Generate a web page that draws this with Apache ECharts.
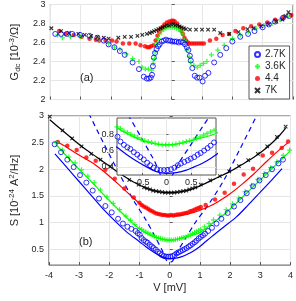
<!DOCTYPE html>
<html><head><meta charset="utf-8">
<script src="https://cdn.jsdelivr.net/npm/echarts@6/dist/echarts.min.js"></script>
<style>html,body{margin:0;padding:0;background:#fff}#c{width:296px;height:301px}</style>
</head><body><div id="c"></div>
<script>
// ---------- Top panel (a): Gdc vs V ----------
const topNames = ['2.7K', '3.6K', '4.4', '7K'];
const gV27 = [-3.84,-3.65,-3.46,-3.28,-3.02,-2.71,-2.45,-2.24,-2.08,-1.89,-1.71,-1.55,-1.29,-1.08,-0.92,-0.82,-0.75,-0.69,-0.65,-0.62,-0.59,-0.55,-0.50,-0.45,-0.40,-0.33,-0.26,-0.19,-0.12,-0.05,0.02,0.09,0.16,0.23,0.30,0.37,0.44,0.50,0.55,0.60,0.63,0.68,0.76,0.84,0.92,1.02,1.10,1.21,1.40,1.60,1.80,2.00,2.26,2.52,2.73,3.00,3.20,3.41,3.67,3.88];
const gG27 = [2.69,2.69,2.69,2.69,2.68,2.67,2.65,2.62,2.58,2.55,2.51,2.47,2.39,2.32,2.24,2.22,2.22,2.23,2.26,2.35,2.44,2.49,2.53,2.56,2.58,2.61,2.62,2.63,2.62,2.62,2.61,2.61,2.61,2.60,2.61,2.60,2.58,2.55,2.52,2.46,2.41,2.33,2.25,2.23,2.23,2.19,2.25,2.28,2.39,2.47,2.54,2.61,2.66,2.69,2.72,2.76,2.79,2.82,2.86,2.88];
const gV36 = [-3.76,-3.60,-3.34,-3.02,-2.66,-2.39,-2.08,-1.89,-1.71,-1.50,-1.29,-1.08,-0.98,-0.87,-0.77,-0.66,-0.61,-0.57,-0.55,-0.50,-0.45,-0.40,-0.33,-0.26,-0.19,-0.12,-0.05,0.02,0.09,0.16,0.23,0.30,0.37,0.42,0.50,0.58,0.63,0.73,0.84,0.94,1.05,1.16,1.31,1.52,1.73,2.00,2.26,2.52,2.78,3.04,3.31,3.57,3.83];
const gG36 = [2.68,2.65,2.66,2.66,2.65,2.63,2.59,2.55,2.53,2.48,2.43,2.40,2.34,2.32,2.32,2.31,2.38,2.43,2.50,2.58,2.64,2.69,2.72,2.74,2.75,2.76,2.76,2.76,2.76,2.75,2.74,2.72,2.69,2.62,2.52,2.45,2.39,2.36,2.34,2.36,2.38,2.40,2.47,2.52,2.57,2.64,2.68,2.71,2.75,2.78,2.80,2.84,2.87];
const gV44 = [-3.71,-3.50,-3.23,-2.97,-2.71,-2.50,-2.39,-2.18,-1.97,-1.82,-1.61,-1.40,-1.19,-1.03,-0.88,-0.80,-0.74,-0.68,-0.60,-0.53,-0.47,-0.42,-0.36,-0.31,-0.24,-0.16,-0.08,0.00,0.05,0.10,0.18,0.26,0.32,0.37,0.42,0.47,0.53,0.58,0.66,0.74,0.82,0.90,0.98,1.06,1.26,1.47,1.68,1.89,2.10,2.36,2.62,2.89,3.15,3.41,3.68,3.94];
const gG44 = [2.72,2.69,2.68,2.66,2.64,2.63,2.62,2.62,2.62,2.61,2.59,2.59,2.59,2.57,2.56,2.55,2.55,2.56,2.57,2.62,2.67,2.71,2.74,2.76,2.79,2.81,2.82,2.83,2.83,2.82,2.80,2.76,2.72,2.69,2.65,2.62,2.60,2.59,2.59,2.59,2.59,2.59,2.59,2.59,2.62,2.64,2.68,2.69,2.72,2.75,2.77,2.79,2.81,2.84,2.86,2.89];
const gV7 = [-3.97,-3.65,-3.39,-3.08,-2.87,-2.66,-2.45,-2.24,-2.08,-1.76,-1.55,-1.34,-1.13,-0.97,-0.82,-0.72,-0.65,-0.58,-0.51,-0.44,-0.37,-0.30,-0.23,-0.16,-0.09,-0.02,0.05,0.12,0.19,0.26,0.33,0.40,0.47,0.60,0.80,1.00,1.20,1.40,1.60,1.90,2.20,2.50,2.70,2.95,3.20,3.45,3.65,3.75,3.85];
const gG7 = [2.75,2.72,2.70,2.69,2.68,2.67,2.66,2.65,2.64,2.65,2.66,2.66,2.67,2.68,2.69,2.70,2.71,2.72,2.73,2.74,2.75,2.76,2.77,2.78,2.78,2.79,2.79,2.78,2.78,2.77,2.76,2.75,2.74,2.735,2.735,2.735,2.735,2.735,2.70,2.69,2.71,2.74,2.75,2.77,2.79,2.82,2.84,2.88,2.92];

// ---------- Bottom panel (b): S vs V ----------
const sV27 = [-3.81,-3.60,-3.39,-3.18,-2.97,-2.76,-2.55,-2.34,-2.13,-1.92,-1.71,-1.55,-1.40,-1.27,-1.13,-1.06,-0.99,-0.93,-0.86,-0.79,-0.73,-0.66,-0.59,-0.53,-0.46,-0.39,-0.33,-0.26,-0.19,-0.12,-0.05,0.02,0.09,0.16,0.23,0.29,0.36,0.43,0.49,0.56,0.63,0.69,0.76,0.83,0.89,0.96,1.03,1.10,1.17,1.27,1.40,1.55,1.71,1.92,2.13,2.34,2.55,2.76,2.97,3.18,3.39,3.60,3.75];
const sS27 = [2.47,2.32,2.18,2.04,1.89,1.75,1.60,1.45,1.31,1.19,1.07,0.98,0.92,0.88,0.84,0.80,0.77,0.71,0.67,0.64,0.62,0.58,0.55,0.52,0.49,0.45,0.42,0.39,0.37,0.36,0.36,0.36,0.37,0.39,0.42,0.44,0.46,0.48,0.50,0.52,0.55,0.57,0.60,0.63,0.66,0.70,0.73,0.76,0.79,0.84,0.90,0.98,1.07,1.18,1.30,1.42,1.55,1.68,1.79,1.89,2.00,2.11,2.18];
const fV27 = [-3.80,-3.40,-3.00,-2.60,-2.20,-1.80,-1.40,-1.00,-0.80,-0.60,-0.40,-0.20,0,0.20,0.40,0.60,0.80,1.00,1.40,1.80,2.20,2.60,3.00,3.40,3.72];
const fS27 = [2.29,2.03,1.77,1.51,1.25,1.02,0.81,0.64,0.55,0.47,0.40,0.34,0.32,0.33,0.36,0.41,0.47,0.55,0.74,0.92,1.10,1.33,1.57,1.81,2.01];
const sV36 = [-3.76,-3.55,-3.34,-3.13,-2.92,-2.71,-2.50,-2.29,-2.08,-1.87,-1.66,-1.45,-1.30,-1.15,-1.00,-0.93,-0.86,-0.79,-0.72,-0.65,-0.58,-0.51,-0.44,-0.37,-0.30,-0.23,-0.16,-0.09,-0.02,0.05,0.12,0.19,0.26,0.33,0.40,0.47,0.54,0.61,0.68,0.75,0.82,0.89,0.96,1.03,1.15,1.30,1.45,1.66,1.87,2.08,2.29,2.50,2.71,2.92,3.13,3.34,3.55,3.76,3.97];
const sS36 = [2.50,2.36,2.23,2.12,1.99,1.87,1.75,1.61,1.48,1.36,1.24,1.12,1.04,0.96,0.89,0.87,0.84,0.82,0.80,0.78,0.76,0.74,0.72,0.71,0.70,0.69,0.68,0.67,0.67,0.67,0.67,0.68,0.69,0.70,0.71,0.72,0.73,0.75,0.77,0.79,0.81,0.83,0.85,0.87,0.92,0.98,1.05,1.14,1.24,1.35,1.46,1.58,1.70,1.81,1.92,2.03,2.14,2.26,2.36];
const fV36 = [-3.76,-3.40,-3.00,-2.60,-2.20,-1.80,-1.40,-1.00,-0.60,-0.30,0,0.30,0.60,1.00,1.40,1.80,2.20,2.60,3.00,3.40,3.80,3.97];
const fS36 = [2.46,2.24,2.00,1.77,1.53,1.30,1.08,0.88,0.75,0.69,0.67,0.69,0.74,0.81,0.98,1.15,1.36,1.58,1.80,2.02,2.24,2.33];
const sV44 = [-3.71,-3.39,-3.08,-2.76,-2.45,-2.13,-1.82,-1.50,-1.19,-1.00,-0.93,-0.86,-0.79,-0.72,-0.65,-0.58,-0.51,-0.44,-0.37,-0.30,-0.23,-0.16,-0.09,-0.02,0.05,0.12,0.19,0.26,0.33,0.40,0.47,0.54,0.61,0.68,0.75,0.82,0.89,0.96,1.03,1.19,1.50,1.82,2.13,2.45,2.76,3.08,3.39,3.71,3.92];
const sS44 = [2.51,2.44,2.36,2.22,2.16,1.99,1.82,1.64,1.47,1.37,1.33,1.30,1.28,1.26,1.23,1.21,1.19,1.17,1.16,1.15,1.14,1.14,1.13,1.13,1.14,1.13,1.14,1.15,1.15,1.16,1.17,1.18,1.19,1.21,1.22,1.24,1.26,1.27,1.29,1.33,1.43,1.56,1.73,1.90,2.01,2.26,2.31,2.40,2.52];
const fV44 = [-3.71,-3.40,-3.10,-2.80,-2.50,-2.10,-1.70,-1.30,-1.00,-0.80,-0.60,-0.40,-0.20,0,0.20,0.40,0.60,0.80,1.00,1.30,1.60,2.00,2.40,2.80,3.20,3.60,3.92];
const fS44 = [2.51,2.41,2.30,2.20,2.10,1.92,1.72,1.51,1.36,1.28,1.21,1.17,1.14,1.13,1.13,1.14,1.16,1.19,1.23,1.30,1.39,1.54,1.72,1.92,2.14,2.35,2.50];
const sV7 = [-3.97,-3.55,-3.23,-2.92,-2.60,-2.29,-1.97,-1.66,-1.34,-1.03,-0.85,-0.75,-0.65,-0.55,-0.45,-0.35,-0.25,-0.15,-0.05,0.05,0.15,0.25,0.35,0.45,0.55,0.65,0.75,0.85,1.03,1.34,1.66,1.97,2.29,2.60,2.92,3.23,3.55,3.84];
const sS7 = [2.99,2.73,2.58,2.43,2.29,2.18,2.05,1.92,1.80,1.71,1.66,1.64,1.62,1.60,1.59,1.58,1.57,1.56,1.56,1.56,1.56,1.57,1.58,1.59,1.60,1.62,1.64,1.66,1.71,1.79,1.87,1.96,2.06,2.17,2.29,2.43,2.61,2.80];
const fV7 = [-3.97,-3.60,-3.20,-2.80,-2.40,-2.00,-1.60,-1.20,-0.80,-0.40,0,0.40,0.80,1.20,1.60,2.00,2.40,2.80,3.20,3.60,3.84];
const fS7 = [2.93,2.75,2.56,2.38,2.22,2.06,1.90,1.76,1.65,1.58,1.56,1.58,1.64,1.74,1.85,1.96,2.09,2.23,2.40,2.61,2.77];
const dV = [-2.68,-2.20,-1.70,-1.20,-0.80,-0.50,-0.25,-0.05,0.05,0.25,0.50,0.85,1.30,1.80,2.30,2.92];
const dS = [3.05,2.50,1.95,1.42,1.06,0.75,0.48,0.26,0.26,0.45,0.68,1.00,1.35,1.80,2.35,3.05];

const topYTicks = [2, 2.2, 2.4, 2.6, 2.8, 3];
const botYTicks = [0.5, 1, 1.5, 2, 2.5, 3];
const insetXTicks = [-0.5, 0, 0.5];
const insetYTicks = [0.4, 0.6, 0.8];

const FONT = 'Liberation Sans, Arial, Helvetica, sans-serif';
const TXT = '#262626';
const GRIDC = '#e6e6e6';
const FRAME = '#555555';
const BLUE = '#0000ff', GREEN = '#00ff00', RED = '#ff0000', BLACK = '#000000';
const PLUS = 'path://M5,0L5,10M0,5L10,5';
const CROSS = 'path://M0,0L10,10M10,0L0,10';

const pairs = (xs, ys) => xs.map((x, i) => [x, ys[i]]);
const lab = {fontSize: 9, color: TXT, fontFamily: FONT};

function sc(name, xi, V, S, kind, z) {
  const base = {type: 'scatter', name, xAxisIndex: xi, yAxisIndex: xi, data: pairs(V, S), z: z || 3, silent: true, animation: false};
  if (kind === 'o') Object.assign(base, {symbol: 'circle', symbolSize: 5, itemStyle: {color: 'rgba(255,255,255,0)', borderColor: BLUE, borderWidth: 1}});
  if (kind === '+') Object.assign(base, {symbol: PLUS, symbolSize: 5, itemStyle: {color: GREEN, borderColor: GREEN, borderWidth: 1.2}});
  if (kind === '.') Object.assign(base, {symbol: 'circle', symbolSize: 4.5, itemStyle: {color: RED, borderWidth: 0}});
  if (kind === 'x') Object.assign(base, {symbol: CROSS, symbolSize: 3.5, itemStyle: {color: BLACK, borderColor: BLACK, borderWidth: 1.1}});
  return base;
}
function ln(name, xi, V, S, color, dashed, z) {
  return {type: 'line', name, xAxisIndex: xi, yAxisIndex: xi, data: pairs(V, S), symbol: 'none', smooth: 0.3, z: z || 2, silent: true, animation: false,
    lineStyle: {color, width: 1.2, type: dashed ? [5, 4] : 'solid'}};
}

const series = [
  sc('4.4', 0, gV44, gG44, '.'),
  sc('3.6K', 0, gV36, gG36, '+'),
  sc('7K', 0, gV7, gG7, 'x'),
  sc('2.7K', 0, gV27, gG27, 'o'),
  ln('d', 1, dV, dS, BLUE, true),
  ln('f7', 1, fV7, fS7, BLACK), ln('f44', 1, fV44, fS44, RED), ln('f36', 1, fV36, fS36, GREEN), ln('f27', 1, fV27, fS27, BLUE),
  sc('s7', 1, sV7, sS7, 'x'), sc('s44', 1, sV44, sS44, '.'), sc('s36', 1, sV36, sS36, '+'), sc('s27', 1, sV27, sS27, 'o'),
  ln('id', 2, dV, dS, BLUE, true, 12), ln('if36', 2, fV36, fS36, GREEN, false, 12), ln('if27', 2, fV27, fS27, BLUE, false, 12),
  sc('is36', 2, sV36, sS36, '+', 13), sc('is27', 2, sV27, sS27, 'o', 13)
];

const chart = echarts.init(document.getElementById('c'), null, {renderer: 'canvas'});
chart.setOption({
  backgroundColor: '#fff',
  animation: false,
  textStyle: {fontFamily: FONT},
  grid: [
    {left: 39, top: 4, width: 254, height: 95.5, show: true, borderColor: FRAME, borderWidth: 1, backgroundColor: 'transparent'},
    {left: 39, top: 116, width: 254, height: 154, show: true, borderColor: FRAME, borderWidth: 1, backgroundColor: 'transparent'},
    {left: 117, top: 118, width: 99, height: 57, show: true, borderColor: FRAME, borderWidth: 1, backgroundColor: '#ffffff', z: 10}
  ],
  xAxis: [
    {gridIndex: 0, type: 'value', min: -4, max: 4, interval: 1, axisLine: {show: false}, axisLabel: {show: false},
      axisTick: {inside: true, length: 3, lineStyle: {color: FRAME}}, splitLine: {lineStyle: {color: GRIDC}}},
    {gridIndex: 1, type: 'value', min: -4, max: 4, interval: 1, axisLine: {show: false}, axisLabel: Object.assign({margin: 6}, lab),
      axisTick: {inside: true, length: 3, lineStyle: {color: FRAME}}, splitLine: {lineStyle: {color: GRIDC}},
      name: 'V [mV]', nameLocation: 'middle', nameGap: 17, nameTextStyle: {fontSize: 11, color: TXT, fontFamily: FONT}},
    {gridIndex: 2, type: 'value', min: -1, max: 1, z: 11, axisLine: {show: false},
      axisLabel: Object.assign({margin: 3, customValues: insetXTicks}, lab),
      axisTick: {inside: true, length: 2, customValues: insetXTicks, lineStyle: {color: FRAME}}, splitLine: {show: true, lineStyle: {color: GRIDC}}}
  ],
  yAxis: [
    {gridIndex: 0, type: 'value', min: 2, max: 3, axisLine: {show: false}, axisLabel: Object.assign({margin: 5, customValues: topYTicks}, lab),
      axisTick: {inside: true, length: 3, customValues: topYTicks, lineStyle: {color: FRAME}}, splitLine: {lineStyle: {color: GRIDC}},
      name: '{n|G}{sub|dc}{n| [10}{sup|-3}{n|/Ω]}', nameLocation: 'middle', nameRotate: 90, nameGap: 23,
      nameTextStyle: {rich: {n: {fontSize: 11, color: TXT, fontFamily: FONT, lineHeight: 14}, sub: {fontSize: 8, color: TXT, fontFamily: FONT, lineHeight: 7, verticalAlign: 'bottom'}, sup: {fontSize: 8, color: TXT, fontFamily: FONT, lineHeight: 7, verticalAlign: 'top'}}}},
    {gridIndex: 1, type: 'value', min: 0.2, max: 3, axisLine: {show: false}, axisLabel: Object.assign({margin: 5, customValues: botYTicks}, lab),
      axisTick: {inside: true, length: 3, customValues: botYTicks, lineStyle: {color: FRAME}}, splitLine: {lineStyle: {color: GRIDC}},
      name: '{n|S [10}{sup|-24}{n| A}{sup|2}{n|/Hz]}', nameLocation: 'middle', nameRotate: 90, nameGap: 23,
      nameTextStyle: {rich: {n: {fontSize: 11, color: TXT, fontFamily: FONT, lineHeight: 14}, sup: {fontSize: 8, color: TXT, fontFamily: FONT, lineHeight: 7, verticalAlign: 'top'}}}},
    {gridIndex: 2, type: 'value', min: 0.3, max: 1.0, z: 11, axisLine: {show: false},
      axisLabel: Object.assign({margin: 3, customValues: insetYTicks}, lab),
      axisTick: {inside: true, length: 2, customValues: insetYTicks, lineStyle: {color: FRAME}}, splitLine: {show: true, lineStyle: {color: GRIDC}}}
  ],
  legend: {
    data: topNames, orient: 'vertical', left: 249, top: 46, padding: [3, 4, 3, 5], itemGap: 1,
    itemWidth: 5, itemHeight: 5, backgroundColor: '#fff', borderColor: '#333', borderWidth: 0.8,
    textStyle: {fontSize: 10, color: TXT, fontFamily: FONT, lineHeight: 11}, selectedMode: false, z: 8
  },
  graphic: [
    {type: 'text', left: 80, top: 72, style: {text: '(a)', fontSize: 11, fill: TXT, fontFamily: FONT}, z: 5},
    {type: 'text', left: 79, top: 236, style: {text: '(b)', fontSize: 11, fill: TXT, fontFamily: FONT}, z: 5}
  ],
  series
});
</script></body></html>
